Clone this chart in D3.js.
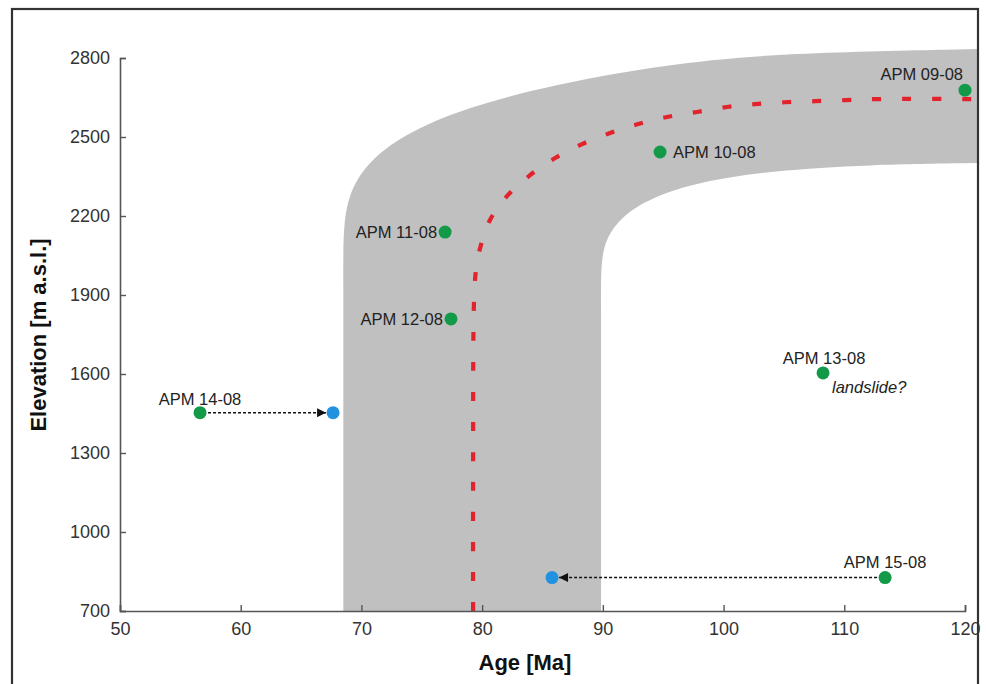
<!DOCTYPE html>
<html>
<head>
<meta charset="utf-8">
<script src="https://cdn.jsdelivr.net/npm/d3@7"></script>
<style>
  body { margin: 0; background: #fff; }
  svg { display: block; font-family: "Liberation Sans", Arial, sans-serif; }
  .tick-label { font-size: 18px; fill: #333; }
  .sample-label { font-size: 16.5px; fill: #222; }
  .title { font-size: 22px; font-weight: bold; fill: #111; }
</style>
</head>
<body>
<svg id="Vis" width="986" height="684"></svg>
<script>
/*
* DATA
*/

const xTicks = [50, 60, 70, 80, 90, 100, 110, 120];
const yTicks = [700, 1000, 1300, 1600, 1900, 2200, 2500, 2800];

/* envelope band, outer (upper-left) edge */
const outerAge  = [68.5, 68.5, 68.5, 68.5, 68.9, 70.4, 73.5, 78.5, 86.0, 95.0, 105.0, 121.1];
const outerElev = [700, 1500, 2000, 2150, 2280, 2400, 2510, 2610, 2700, 2775, 2820, 2834];

/* envelope band, inner (lower-right) edge */
const innerAge  = [89.85, 89.85, 89.85, 89.85, 90.3, 91.6, 94.0, 98.0, 104.0, 112.0, 121.1];
const innerElev = [700, 1500, 1900, 2030, 2120, 2200, 2270, 2330, 2372, 2395, 2401];

/* red dashed trend */
const trendAge  = [79.25, 79.25, 79.33, 79.49, 79.83, 80.65, 82.15, 83.97, 86.04, 88.28, 90.6, 92.92, 95.32, 97.8, 100.29, 102.61, 105.09, 107.58, 110.07, 112.72, 120.6];
const trendElev = [700, 1197, 1881, 1995, 2078, 2185, 2280, 2355, 2420, 2473, 2515, 2549, 2576, 2595, 2614, 2625, 2632, 2636, 2640, 2644, 2644];

/* samples */
const sampleNames = ["APM 09-08", "APM 10-08", "APM 11-08", "APM 12-08", "APM 13-08", "APM 14-08", "APM 15-08"];
const sampleAge   = [120.0, 94.74, 76.93, 77.42, 108.24, 56.63, 113.38];
const sampleElev  = [2678, 2443, 2139, 1809, 1604, 1453, 827];

/* corrected ages (blue) */
const correctedNames = ["APM 14-08", "APM 15-08"];
const correctedAge   = [67.65, 85.79];
const correctedElev  = [1453, 827];

/*
* SETUP
*/

const svg = d3.select("svg#Vis");

const margin = { left: 120, right: 965, top: 58, bottom: 611 };

const x = d3.scaleLinear().domain([50, 120]).range([margin.left, margin.right]);
const y = d3.scaleLinear().domain([700, 2800]).range([margin.bottom, margin.top]);

const g = {
  band: svg.append("g").attr("id", "band"),
  trend: svg.append("g").attr("id", "trend"),
  axes: svg.append("g").attr("id", "axes"),
  arrows: svg.append("g").attr("id", "arrows"),
  points: svg.append("g").attr("id", "points"),
  labels: svg.append("g").attr("id", "labels"),
  frame: svg.append("g").attr("id", "frame")
};

const line = d3.line()
  .x(d => x(d[0]))
  .y(d => y(d[1]))
  .curve(d3.curveCatmullRom.alpha(0.5));

const smooth = d3.line()
  .x(d => x(d[0]))
  .y(d => y(d[1]))
  .curve(d3.curveBasis);

/*
* BAND
*/

const outer = d3.zip(outerAge, outerElev);
const inner = d3.zip(innerAge, innerElev).reverse();

const bandPath = smooth(outer) + "L" + smooth(inner).slice(1) + "Z";

g.band.append("path")
  .attr("d", bandPath)
  .attr("fill", "#c0c0c0");

/*
* TREND LINE
*/

g.trend.append("path")
  .attr("d", line(d3.zip(trendAge, trendElev)))
  .attr("fill", "none")
  .attr("stroke", "#e2232b")
  .attr("stroke-width", 4.2)
  .attr("stroke-dasharray", "9,21");

/*
* AXES
*/

const yAxis = d3.axisLeft(y).tickValues(yTicks).tickFormat(d3.format("d")).tickSize(-6).tickPadding(10);
const xAxis = d3.axisBottom(x).tickValues(xTicks).tickFormat(d3.format("d")).tickSize(-6).tickPadding(10);

const gy = g.axes.append("g")
  .attr("transform", "translate(" + margin.left + ",0)")
  .call(yAxis);

const gx = g.axes.append("g")
  .attr("transform", "translate(0," + margin.bottom + ")")
  .call(xAxis);

[gx, gy].forEach(function(ax) {
  ax.attr("font-size", null).attr("font-family", null);
  ax.select(".domain").attr("stroke", "#555").attr("stroke-width", 1.6);
  ax.selectAll(".tick line").attr("stroke", "#555").attr("stroke-width", 1.4);
  ax.selectAll(".tick text")
    .attr("class", "tick-label")
    .attr("fill", null);
});

gx.selectAll(".tick text").attr("dy", "0.78em");

/* axis titles */
svg.append("text")
  .attr("class", "title")
  .attr("x", 525)
  .attr("y", 670)
  .attr("text-anchor", "middle")
  .text("Age [Ma]");

svg.append("text")
  .attr("class", "title")
  .attr("transform", "translate(46,335) rotate(-90)")
  .attr("text-anchor", "middle")
  .text("Elevation [m a.s.l.]");

/*
* ARROWS
*/

svg.append("defs").append("marker")
  .attr("id", "head")
  .attr("viewBox", "0 0 10 10")
  .attr("refX", 10)
  .attr("refY", 5)
  .attr("markerUnits", "userSpaceOnUse")
  .attr("markerWidth", 11)
  .attr("markerHeight", 9)
  .attr("orient", "auto")
  .append("path")
  .attr("d", "M0,0L10,5L0,10Z")
  .attr("fill", "#111");

correctedNames.forEach(function(name, i) {
  let j = sampleNames.indexOf(name);
  let x0 = x(sampleAge[j]);
  let x1 = x(correctedAge[i]);
  let dir = x1 > x0 ? 1 : -1;
  g.arrows.append("line")
    .attr("x1", x0 + dir * 8)
    .attr("y1", y(sampleElev[j]))
    .attr("x2", x1 - dir * 7)
    .attr("y2", y(correctedElev[i]))
    .attr("stroke", "#111")
    .attr("stroke-width", 1.6)
    .attr("stroke-dasharray", "3,2")
    .attr("marker-end", "url(#head)");
});

/*
* POINTS
*/

g.points.selectAll("circle.sample")
  .data(d3.range(sampleNames.length))
  .join("circle")
  .attr("class", "sample")
  .attr("cx", i => x(sampleAge[i]))
  .attr("cy", i => y(sampleElev[i]))
  .attr("r", 6.5)
  .attr("fill", "#139a48");

g.points.selectAll("circle.corrected")
  .data(d3.range(correctedNames.length))
  .join("circle")
  .attr("class", "corrected")
  .attr("cx", i => x(correctedAge[i]))
  .attr("cy", i => y(correctedElev[i]))
  .attr("r", 6.5)
  .attr("fill", "#2192e0");

/*
* LABELS
*/

/* label placement relative to the dot: dx, dy, anchor */
const placement = {
  "APM 09-08": [-2, -10, "end"],
  "APM 10-08": [13, 6, "start"],
  "APM 11-08": [-8, 6, "end"],
  "APM 12-08": [-8, 6, "end"],
  "APM 13-08": [1, -9, "middle"],
  "APM 14-08": [0, -8, "middle"],
  "APM 15-08": [0, -10, "middle"]
};

sampleNames.forEach(function(name, i) {
  let p = placement[name];
  g.labels.append("text")
    .attr("class", "sample-label")
    .attr("x", x(sampleAge[i]) + p[0])
    .attr("y", y(sampleElev[i]) + p[1])
    .attr("text-anchor", p[2])
    .text(name);
});

g.labels.append("text")
  .attr("class", "sample-label")
  .attr("x", x(sampleAge[4]) + 9)
  .attr("y", y(sampleElev[4]) + 20)
  .style("font-style", "italic")
  .text("landslide?");

/*
* FRAME
*/

g.frame.append("rect")
  .attr("x", 12)
  .attr("y", 9)
  .attr("width", 966)
  .attr("height", 700)
  .attr("fill", "none")
  .attr("stroke", "#333")
  .attr("stroke-width", 2.2);
</script>
</body>
</html>
